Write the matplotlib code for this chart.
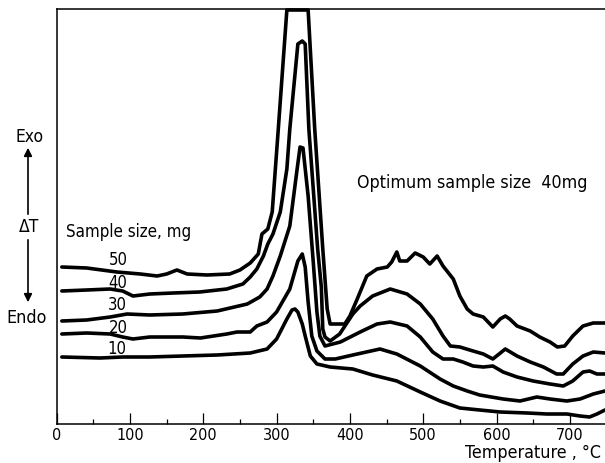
import numpy as np
import matplotlib
matplotlib.use("Agg")
import matplotlib.pyplot as plt

# DTA curves, temperature in degC, deflection in arbitrary units
t_50 = [7, 41, 82, 114, 137, 150, 164, 178, 205, 236, 250, 264, 275, 280, 288, 294, 302, 314,
        343, 352, 363, 369, 373, 393, 400, 410, 423, 437, 451, 457, 464, 468, 478, 489, 500,
        509, 519, 527, 541, 550, 560, 568, 582, 595, 605, 612, 618, 628, 646, 659, 673, 683,
        693, 704, 718, 732, 748]
dt_50 = [157, 156, 152, 150, 148, 150, 154, 150, 149, 150, 154, 161, 170, 190, 195, 212, 292, 414,
         414, 295, 175, 115, 100, 100, 108, 125, 148, 155, 157, 162, 172, 163, 163, 171, 167,
         160, 168, 158, 145, 128, 115, 110, 107, 97, 105, 108, 105, 98, 93, 87, 82, 77,
         78, 88, 98, 101, 101]

t_40 = [7, 41, 73, 90, 104, 127, 159, 195, 232, 254, 264, 273, 282, 288, 295, 305, 314, 318,
        329, 335, 339, 344, 356, 361, 363, 366, 373, 386, 404, 414, 431, 455, 478, 496, 513,
        527, 537, 550, 568, 582, 595, 612, 628, 646, 664, 682, 691, 704, 718, 732, 748]
dt_40 = [133, 134, 135, 133, 128, 130, 131, 132, 135, 140, 147, 155, 168, 180, 190, 212, 255, 295,
         380, 383, 380, 295, 175, 137, 95, 87, 83, 90, 110, 118, 128, 135, 130, 120, 105,
         88, 78, 77, 73, 70, 65, 75, 68, 62, 57, 50, 50, 60, 68, 72, 71]

t_30 = [7, 41, 73, 96, 127, 172, 219, 260, 277, 287, 295, 305, 318, 328, 332, 336, 343, 350,
        355, 359, 366, 387, 414, 437, 455, 478, 496, 513, 527, 541, 554, 568, 582, 595, 609,
        628, 650, 673, 691, 704, 718, 727, 737, 748]
dt_30 = [103, 104, 107, 110, 109, 110, 113, 120, 127, 135, 148, 168, 198, 255, 277, 276, 228, 162,
         112, 88, 78, 82, 92, 100, 102, 98, 87, 72, 65, 65, 62, 58, 57, 58, 52,
         47, 43, 40, 38, 43, 52, 53, 50, 50]

t_20 = [7, 41, 73, 90, 104, 127, 172, 196, 232, 246, 264, 273, 287, 300, 318, 329, 335, 339,
        343, 348, 355, 366, 380, 404, 441, 464, 496, 523, 541, 560, 577, 609, 632, 655, 673,
        696, 714, 732, 748]
dt_20 = [90, 91, 90, 87, 85, 87, 87, 86, 90, 92, 92, 98, 102, 112, 135, 163, 170, 157,
         122, 88, 73, 65, 65, 69, 75, 70, 58, 45, 38, 33, 29, 25, 23, 27, 25,
         23, 25, 30, 33]

t_10 = [7, 59, 90, 127, 172, 219, 264, 287, 300, 314, 321, 325, 329, 335, 339, 346, 355, 373,
        404, 431, 464, 496, 523, 550, 577, 605, 642, 669, 696, 714, 727, 737, 748]
dt_10 = [67, 66, 67, 67, 68, 69, 71, 75, 85, 105, 114, 115, 112, 100, 88, 68, 60, 57,
         55, 49, 43, 32, 23, 16, 14, 12, 11, 10, 10, 8, 7, 10, 14]

sizes = ["50", "40", "30", "20", "10"]
size_label_pos = [(118, 260), (118, 283), (117, 305), (118, 328), (117, 349)]  # pixels

W, H = 605, 464
FONT = "DejaVu Sans"


def fx(px):
    return px / W


def fy(py):
    return 1 - py / H


def label(px, py, s, size=12, ha="center"):
    fig.text(fx(px), fy(py), s, ha=ha, va="center", fontsize=size, family=FONT,
             fontstretch="condensed")


fig = plt.figure(figsize=(W / 100, H / 100), dpi=100)
ax = fig.add_axes([fx(56.7), fy(425), (W - 56.7) / W, (425 - 10) / H])

for t, d in [(t_50, dt_50), (t_40, dt_40), (t_30, dt_30), (t_20, dt_20), (t_10, dt_10)]:
    ax.plot(t, d, color="black", lw=2.6, solid_joinstyle="round", solid_capstyle="round",
            clip_on=False)

ax.set_xlim(0, 748)
ax.set_ylim(0, 415)
ax.spines["right"].set_visible(False)
for s in ["left", "bottom", "top"]:
    ax.spines[s].set_linewidth(1.1)
ax.set_yticks([])
ax.set_xticks(range(0, 701, 100))
ax.set_xticks(range(50, 701, 100), minor=True)
ax.tick_params(axis="x", which="major", direction="in", length=8, width=0.9, pad=2,
               labelsize=11.5)
ax.tick_params(axis="x", which="minor", direction="in", length=3.6, width=0.9)
for lab in ax.get_xticklabels():
    lab.set_family(FONT)
    lab.set_fontstretch("condensed")

for s, (px, py) in zip(sizes, size_label_pos):
    label(px, py, s, 12)

label(66, 232, "Sample size, mg", 12.2, ha="left")
label(357, 183, "Optimum sample size  40mg", 12.8, ha="left")
label(601, 453, "Temperature , \u00b0C", 12.8, ha="right")

# Exo / Endo arrows on the left
label(30, 137, "Exo", 12.5)
label(29, 227, "\u0394T", 12.5)
label(27, 318, "Endo", 12.8)
arrow = dict(arrowstyle="-|>", color="black", lw=1.2, mutation_scale=12)
fig.add_artist(matplotlib.patches.FancyArrowPatch((fx(28), fy(218)), (fx(28), fy(146)),
                                                  transform=fig.transFigure, **arrow))
fig.add_artist(matplotlib.patches.FancyArrowPatch((fx(28), fy(238)), (fx(28), fy(306)),
                                                  transform=fig.transFigure, **arrow))

fig.savefig("out.png", dpi=100)
